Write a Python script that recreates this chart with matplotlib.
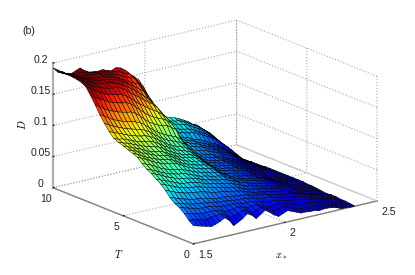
import matplotlib
matplotlib.use("Agg")
import matplotlib.pyplot as plt
import numpy as np

plt.rcParams['font.family'] = ['Liberation Sans', 'DejaVu Sans']
plt.rcParams['mathtext.fontset'] = 'cm'
plt.rcParams['grid.linestyle'] = ':'
plt.rcParams['grid.color'] = '#a8a8a8'
plt.rcParams['grid.linewidth'] = 0.8

x_etoile = np.linspace(1.5, 2.38, 37)
temps = np.linspace(0, 10, 31)
D_milli = [
    [29,27,25,23,21,23,26,30,24,14,18,22,28,24,17,22,27,22,16,12,15,18,15,12,9,9,8,8,6,7,7,6,4,1,1,0,0],
    [35,34,32,30,30,31,32,33,30,24,25,28,31,28,24,26,29,25,21,18,19,21,19,16,13,12,11,11,10,10,9,8,6,4,3,2,1],
    [43,41,39,37,36,36,36,36,34,31,31,32,33,31,28,29,30,27,24,22,22,23,21,19,17,16,15,14,13,12,11,10,8,6,5,3,2],
    [49,47,45,43,41,40,40,39,38,36,35,35,35,34,32,32,32,30,28,26,25,25,24,22,20,19,18,17,15,14,13,11,9,8,6,4,2],
    [53,51,49,47,45,44,43,42,41,40,38,38,37,36,35,35,34,33,31,29,28,28,26,24,22,21,19,18,17,15,14,12,10,8,7,5,3],
    [59,57,54,52,50,48,47,46,45,43,41,40,40,39,38,37,36,35,33,31,30,29,27,26,24,22,21,20,18,16,14,12,10,9,8,6,3],
    [68,65,62,59,57,55,54,53,52,50,48,46,45,44,42,41,40,38,35,33,30,30,28,27,26,24,22,20,18,16,14,11,9,7,6,4,2],
    [75,72,69,66,63,61,59,58,57,55,53,51,49,48,46,44,43,41,38,35,33,32,30,29,27,25,24,22,19,17,15,12,10,8,7,5,3],
    [80,77,74,71,68,65,63,62,61,59,57,54,52,51,49,47,46,44,41,38,35,34,32,30,28,27,25,23,21,18,16,13,11,9,8,6,4],
    [86,83,80,76,73,70,68,66,65,63,61,58,55,54,52,50,49,47,44,41,37,36,33,31,30,28,26,24,22,19,16,13,11,10,8,7,5],
    [90,87,84,80,77,74,72,70,69,67,64,61,58,57,55,53,52,50,46,43,38,37,35,33,31,29,27,25,23,20,17,14,12,10,9,7,5],
    [96,93,90,86,82,79,76,74,73,71,68,65,62,60,58,56,55,53,48,45,38,37,35,33,32,30,28,26,23,20,17,14,12,11,9,8,6],
    [103,99,96,92,88,85,82,81,80,77,73,69,66,63,61,59,58,55,50,45,38,37,36,34,33,31,29,25,23,20,17,12,11,10,9,8,6],
    [106,103,99,95,92,89,86,84,83,80,76,72,69,66,64,62,61,58,53,47,40,38,37,36,34,32,30,27,24,21,18,14,12,10,9,8,6],
    [109,106,103,99,96,93,90,88,86,84,80,76,72,69,67,65,64,60,55,49,42,40,38,37,35,33,31,28,25,22,19,15,13,11,9,8,6],
    [112,109,106,103,100,96,93,91,90,87,83,79,75,72,70,68,66,63,57,51,44,41,39,38,36,35,32,29,26,23,20,17,14,12,10,8,6],
    [115,112,110,107,104,101,98,96,95,92,88,83,79,75,72,70,68,65,60,53,45,42,40,39,37,36,33,30,27,24,21,18,15,13,11,8,6],
    [118,115,114,111,108,105,103,101,100,97,93,88,84,80,76,73,71,68,63,55,47,44,42,40,38,37,34,31,28,25,22,19,16,14,11,8,6],
    [126,123,120,117,114,111,109,107,106,103,99,94,89,84,80,77,75,72,67,58,49,46,43,41,39,38,35,32,29,26,23,20,17,14,11,8,6],
    [136,132,128,125,122,119,117,115,113,110,106,100,95,90,86,83,80,77,72,62,52,48,45,43,41,39,36,33,30,27,24,21,18,14,11,8,6],
    [147,143,138,134,131,128,126,124,122,119,114,108,102,97,93,89,86,83,78,67,56,51,47,45,43,41,37,35,31,28,25,22,18,15,11,8,5],
    [160,155,150,146,143,140,138,136,135,131,125,118,112,108,104,101,100,95,90,76,62,55,50,48,46,44,41,38,35,31,28,25,20,16,12,8,5],
    [172,167,163,159,155,152,150,148,147,143,137,130,124,118,114,110,108,103,97,84,69,60,54,51,49,47,43,40,37,33,30,27,22,17,12,8,5],
    [183,178,173,169,165,162,160,158,157,153,147,141,135,130,125,120,116,110,103,90,75,64,57,54,51,49,45,42,39,35,32,29,24,18,13,8,4],
    [187,183,179,175,172,169,167,166,165,162,157,151,146,141,135,130,125,118,108,95,80,68,60,56,53,51,47,44,41,37,34,30,26,20,14,9,4],
    [189,186,182,179,176,174,172,171,170,167,164,159,154,149,143,137,131,123,110,98,88,73,63,58,55,53,49,47,44,40,36,33,28,22,16,11,7],
    [190,187,184,181,178,176,174,173,172,170,168,164,160,155,150,145,140,127,112,103,95,82,70,63,60,58,56,55,52,48,44,40,36,30,24,17,10],
    [191,187,184,181,179,177,175,174,174,172,170,167,163,159,155,151,148,135,122,110,100,88,74,67,63,61,59,58,55,51,47,43,38,32,25,18,12],
    [191,186,182,181,179,178,177,176,175,173,171,169,167,164,160,157,155,146,133,119,110,94,78,72,68,66,64,62,59,55,51,47,42,36,29,22,14],
    [192,185,182,180,179,179,178,176,174,173,172,170,168,167,165,161,159,151,141,130,118,98,82,75,71,68,66,65,62,58,54,50,45,39,33,25,16],
    [192,184,183,178,176,179,182,176,172,171,170,171,168,166,169,167,162,154,148,142,130,115,103,85,77,72,69,67,64,60,56,50,47,40,34,28,18],
]
x_ticks = [1.5, 2, 2.5]
x_tick_labels = ['1.5', '2', '2.5']
t_ticks = [0, 5, 10]
t_tick_labels = ['0', '5', '10']
d_ticks = [0, 0.05, 0.1, 0.15, 0.2]
d_tick_labels = ['0', '0.05', '0.1', '0.15', '0.2']

X, T = np.meshgrid(x_etoile, temps)
D = np.array(D_milli) / 1000

fig = plt.figure(figsize=(4.15, 2.75), dpi=100)
ax = fig.add_axes([39.5/415, -32.5/275, 341.8/415, 341.8/275], projection='3d', proj_type='ortho')
ax.view_init(elev=17.8, azim=-127.4)
ax.set_box_aspect((1, 1, 0.567))

ax.plot_surface(X, T, D, cmap='jet', vmin=0, vmax=0.178, rstride=1, cstride=1,
                edgecolor='black', linewidth=0.35, shade=False, antialiased=True)

# bord du plancher côté x* = 2.5, trait plein clair
ax.plot([x_ticks[-1], x_ticks[-1]], [t_ticks[0], t_ticks[-1]], [d_ticks[0], d_ticks[0]],
        color='#cfcfcf', linewidth=0.9)

ax.set_xlim(1.5, 2.5, view_margin=0)
ax.set_ylim(0, 10, view_margin=0)
ax.set_zlim(0, 0.2, view_margin=0)
ax.set_xticks(x_ticks)
ax.set_xticklabels(x_tick_labels, ha='left')
ax.set_yticks(t_ticks)
ax.set_yticklabels(t_tick_labels)
ax.set_zticks(d_ticks)
ax.set_zticklabels(d_tick_labels, va='baseline')
ax.tick_params(labelsize=7.6, colors='#222222')
ax.tick_params(axis='x', pad=-4)
ax.tick_params(axis='y', pad=-3.2)
ax.tick_params(axis='z', pad=-3.2)

for axe in (ax.xaxis, ax.yaxis, ax.zaxis):
    axe.set_pane_color((1, 1, 1, 0))
    axe.pane.set_edgecolor('none')
    axe.line.set_color('#808080')
    axe.line.set_linewidth(1.0)
    axe._axinfo['tick']['inward_factor'] = 0
    axe._axinfo['tick']['outward_factor'] = 0.08
ax.zaxis.line.set_color('#b0b0b0')
ax.zaxis.line.set_linewidth(1.6)

fig.text(22/415, 1 - 31/275, '(b)', fontsize=7.6, va='center', color='#222222')
fig.text(22/415, 1 - 125/275, r'$D$', fontsize=7.5, rotation=90, ha='center', va='center')
fig.text(119/415, 1 - 254/275, r'$T$', fontsize=7.5, ha='center', va='center')
fig.text(281/415, 1 - 256/275, r'$x_*$', fontsize=7.5, ha='center', va='center')

fig.savefig('out.png', dpi=100)
